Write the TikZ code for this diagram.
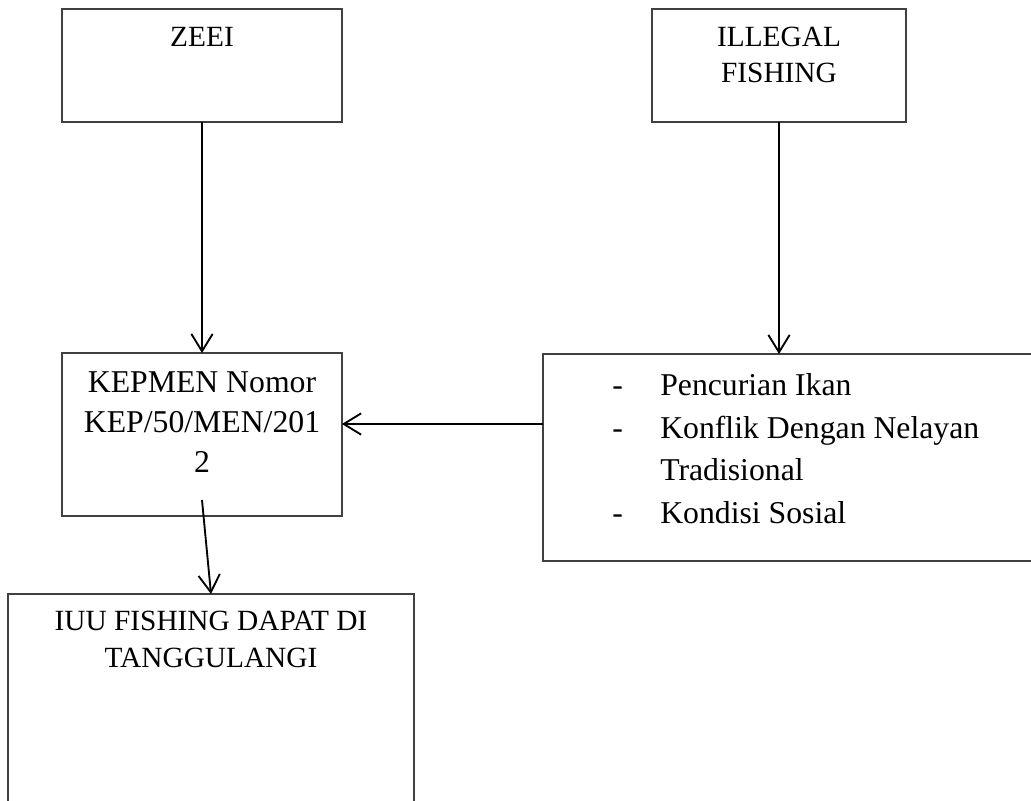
\documentclass[tikz,border=0pt]{standalone}
\usepackage{fontspec}
\setmainfont{Liberation Serif}
\usetikzlibrary{arrows.meta}
\begin{document}
\begin{tikzpicture}[x=0.75pt,y=-0.75pt,
  box/.style={draw=black!75,line width=1pt,inner sep=0pt,outer sep=0pt},
  txt/.style={anchor=base,inner sep=0pt,font=\fontsize{22}{26}\selectfont},
  bigtxt/.style={anchor=base,inner sep=0pt,font=\fontsize{23.8}{28}\selectfont},
  ltxt/.style={anchor=base west,inner sep=0pt,font=\fontsize{23.8}{28}\selectfont},
  arr/.style={line width=1.4pt,-{Straight Barb[length=13pt,width=16pt,line width=1.4pt]}}]
\useasboundingbox (0,0) rectangle (1031,800);
\clip (0,0) rectangle (1031,800);
\fill[white] (0,0) rectangle (1031,800);
% boxes
\node[box,minimum width=210pt,minimum height=84.75pt] (zeei) at (202,65.5) {};
\node[box,minimum width=190.5pt,minimum height=84.75pt] (ill) at (779,65.5) {};
\node[box,minimum width=210pt,minimum height=122.25pt] (kep) at (202,434.5) {};
\node[box,minimum width=372.75pt,minimum height=155.25pt] (list) at (791.5,457.5) {};
\node[box,minimum width=304.5pt,minimum height=162pt] (iuu) at (211,702) {};
% texts
\node[txt] (t1) at (202,46) {ZEEI};
\node[txt] (t2a) at (779,46) {ILLEGAL};
\node[txt] (t2b) at (779,82) {FISHING};
\node[bigtxt] (t3a) at (202,392) {KEPMEN Nomor};
\node[bigtxt] (t3b) at (202,432) {KEP/50/MEN/201};
\node[bigtxt] (t3c) at (202,472) {2};
\node[ltxt] (d1) at (612,395) {-};
\node[ltxt] (l1) at (660,395) {Pencurian Ikan};
\node[ltxt] (d2) at (612,438) {-};
\node[ltxt] (l2) at (660,438) {Konflik Dengan Nelayan};
\node[ltxt] (l3) at (660,480) {Tradisional};
\node[ltxt] (d4) at (612,523) {-};
\node[ltxt] (l4) at (660,523) {Kondisi Sosial};
\node[txt] (t5a) at (211,630) {IUU FISHING DAPAT DI};
\node[txt] (t5b) at (211,667) {TANGGULANGI};
% connectors
\draw[arr] (zeei.south) -- (kep.north);
\draw[arr] (ill.south) -- (ill.south |- list.north);
\coordinate (lk) at (543,424);
\draw[arr] (lk) -- (kep.east |- lk);
\coordinate (ks) at (202,500);
\draw[arr] (ks) -- (iuu.north);
\end{tikzpicture}
\end{document}
